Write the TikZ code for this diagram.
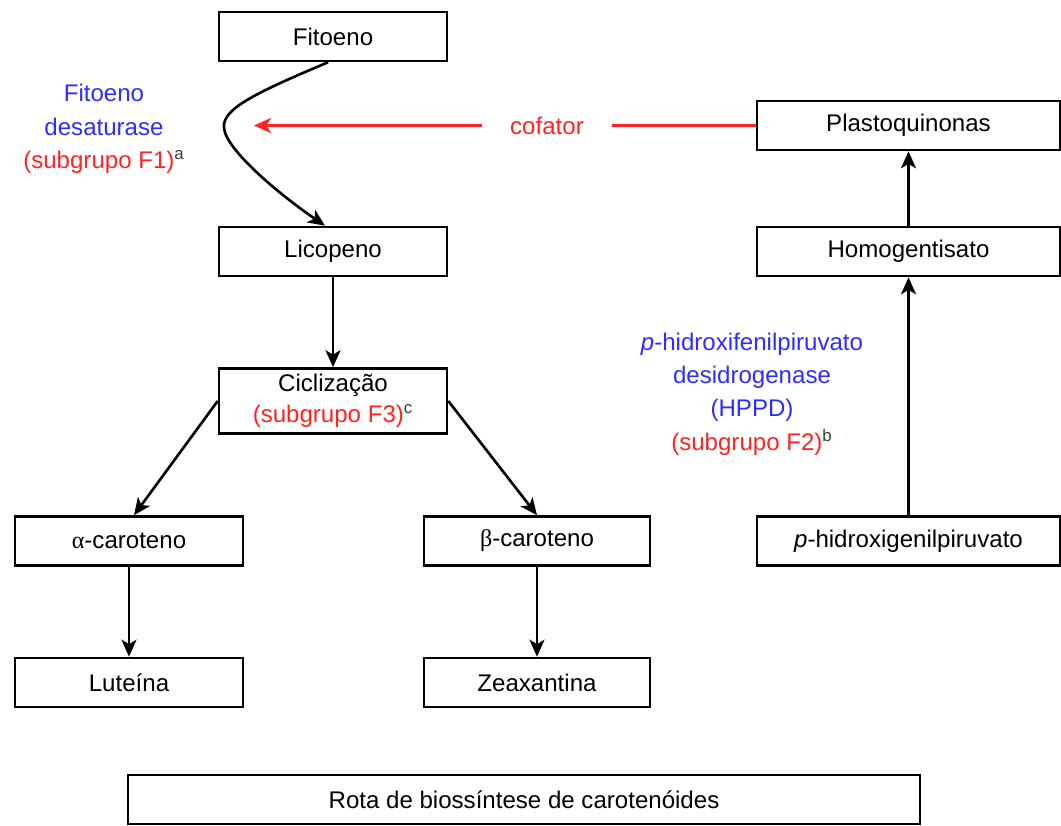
\documentclass[tikz,border=0pt]{standalone}
\usepackage{fontspec}
\setmainfont{Liberation Sans}
\newfontfamily\greekfont{Liberation Serif}
\usetikzlibrary{arrows.meta}
\definecolor{enzblue}{RGB}{45,45,255}
\definecolor{subred}{RGB}{255,35,35}
\definecolor{supgray}{RGB}{60,60,60}
\newcommand{\supnote}[1]{\textcolor{supgray}{\textsuperscript{#1}}}
\tikzset{
    box/.style={draw,line width=1.5pt,minimum height=0.98cm,inner sep=0pt,
        font=\fontsize{13.7}{17.6}\selectfont,align=center},
    flow/.style={line width=1.5pt,-{Stealth[length=3.4mm,width=3mm,inset=0.9mm]}},
    enzyme/.style={text=enzblue,align=center,font=\fontsize{13.7}{19}\selectfont},
}
\begin{document}
\begin{tikzpicture}
    [x=0.02cm,y=-0.02cm]
    \useasboundingbox (0,0) rectangle (1061,825);
    %carotenoid branch
    \node[box,minimum width=4.56cm] (fito) at (333,36.5) {Fitoeno};
    \node[box,minimum width=4.56cm] (lico) at (333,251.5) {Licopeno};
    \node[box,minimum width=4.56cm,minimum height=1.3cm] (cicl) at (333,401)
        {Ciclização\\\textcolor{subred}{(subgrupo F3)}\supnote{c}};
    \node[box,minimum width=4.56cm] (alpha) at (129,541) {{\greekfont α}-caroteno};
    \node[box,minimum width=4.52cm] (beta) at (537,541) {{\greekfont β}-caroteno};
    \node[box,minimum width=4.56cm] (lute) at (129,682.5) {Luteína};
    \node[box,minimum width=4.52cm] (zea) at (537,682.5) {Zeaxantina};
    %plastoquinone branch
    \node[box,minimum width=6.06cm] (plast) at (908.5,125.5) {Plastoquinonas};
    \node[box,minimum width=6.06cm] (homo) at (908.5,251.5) {Homogentisato};
    \node[box,minimum width=6.06cm] (hidro) at (908.5,541) {\textit{p}-hidroxigenilpiruvato};
    %title
    \node[box,minimum width=15.84cm] (rota) at (524,799.5) {Rota de biossíntese de carotenóides};
    %enzymes
    \node[enzyme] (fds) at (104,129)
        {Fitoeno\\desaturase\\\textcolor{subred}{(subgrupo F1)}\supnote{a}};
    \node[enzyme] (hppd) at (752,394)
        {\textit{p}-hidroxifenilpiruvato\\desidrogenase\\(HPPD)\\\textcolor{subred}{(subgrupo F2)}\supnote{b}};
    %cofator
    \node[text=subred,inner xsep=0.56cm,font=\fontsize{13.7}{17.6}\selectfont] (cof) at (547,125.5) {cofator};
    \coordinate (cofend) at (254,125.5);
    %arrows
    \draw[flow] ([xshift=-0.1cm]fito.south) .. controls (250,95) and (222,110) .. (224,128)
        .. controls (226,150) and (280,195) .. ([xshift=-0.16cm]lico.north);
    \draw[flow] (lico) -- (cicl);
    \draw[flow] (cicl.west) -- ([xshift=0.1cm]alpha.north);
    \draw[flow] (cicl.east) -- (beta.north);
    \draw[flow] (alpha) -- (lute);
    \draw[flow] (beta) -- (zea);
    \draw[flow] (hidro) -- (homo);
    \draw[flow] (homo) -- (plast);
    \draw[line width=1.5pt,subred] (plast.west) -- (cof.east);
    \draw[flow,subred] (cof.west) -- (cofend);
\end{tikzpicture}
\end{document}
